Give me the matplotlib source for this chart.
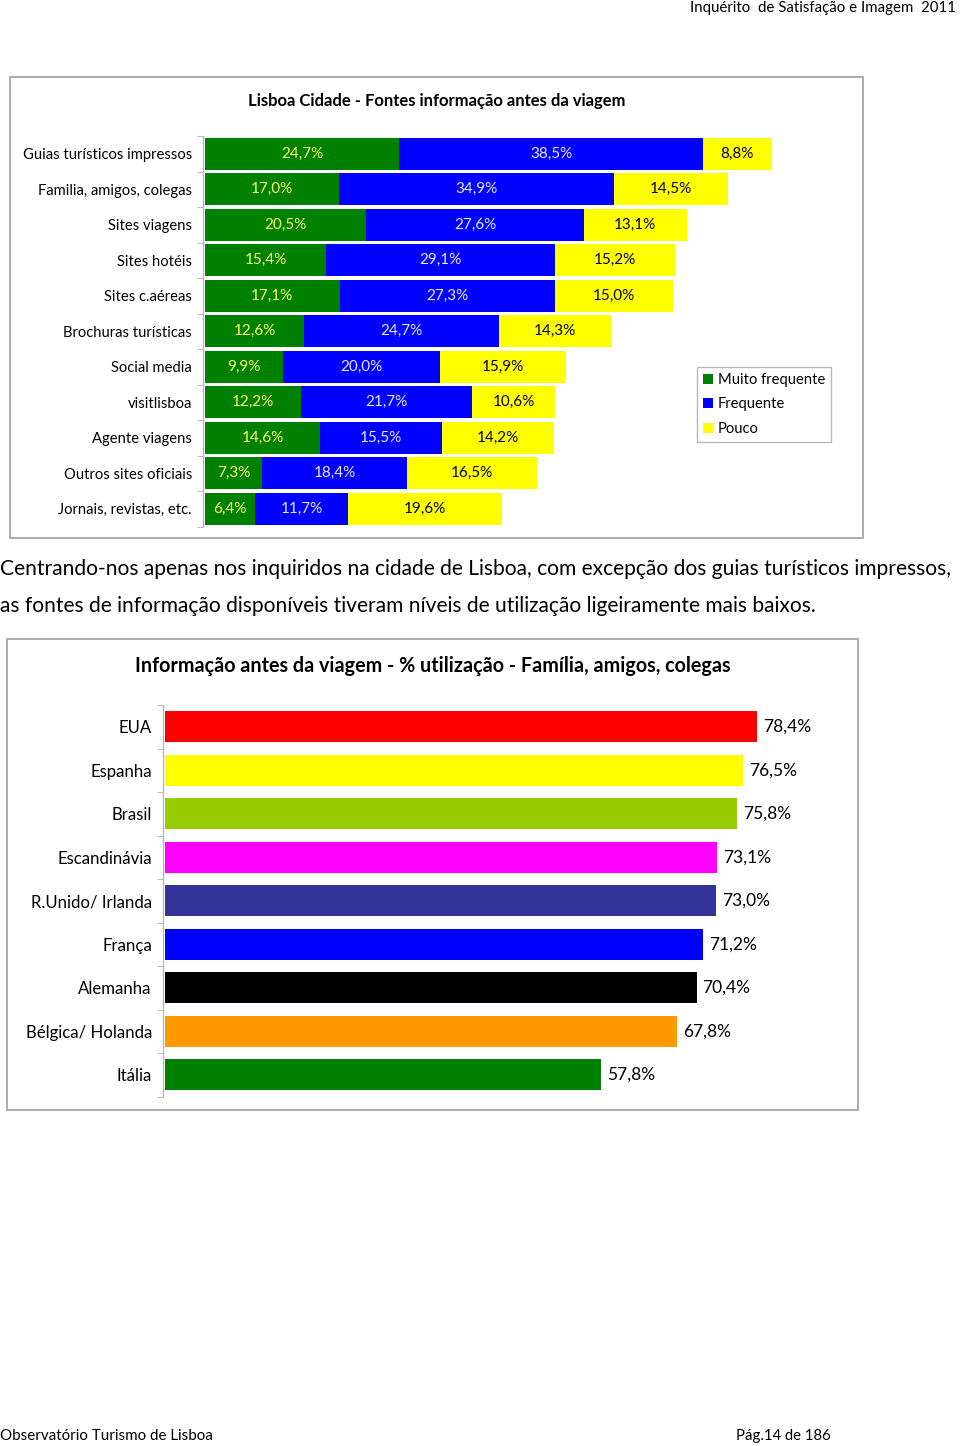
import matplotlib.pyplot as plt
import numpy as np
from matplotlib.patches import Patch, Rectangle

plt.rcParams["font.family"] = ["Lato", "DejaVu Sans"]

# ── data: chart 1 (stacked) ────────────────────────────────────────────────────
sources = [
    "Guias turísticos impressos", "Familia, amigos, colegas", "Sites viagens",
    "Sites hotéis", "Sites c.aéreas", "Brochuras turísticas", "Social media",
    "visitlisboa", "Agente viagens", "Outros sites oficiais", "Jornais, revistas, etc.",
]
muito_frequente = [24.7, 17.0, 20.5, 15.4, 17.1, 12.6, 9.9, 12.2, 14.6, 7.3, 6.4]
frequente       = [38.5, 34.9, 27.6, 29.1, 27.3, 24.7, 20.0, 21.7, 15.5, 18.4, 11.7]
pouco           = [8.8, 14.5, 13.1, 15.2, 15.0, 14.3, 15.9, 10.6, 14.2, 16.5, 19.6]
series_names    = ["Muito frequente", "Frequente", "Pouco"]

# ── data: chart 2 (countries) ──────────────────────────────────────────────────
countries = ["EUA", "Espanha", "Brasil", "Escandinávia", "R.Unido/ Irlanda",
             "França", "Alemanha", "Bélgica/ Holanda", "Itália"]
utilizacao = [78.4, 76.5, 75.8, 73.1, 73.0, 71.2, 70.4, 67.8, 57.8]

# ── style ──────────────────────────────────────────────────────────────────────
SEG_COLORS  = ["#008000", "#0000FF", "#FFFF00"]
SEG_TEXT    = ["#FFFF66", "#E8E8FF", "#000033"]
CTRY_COLORS = ["#FF0000", "#FFFF00", "#99CC00", "#FF00FF", "#333399",
               "#0000FF", "#000000", "#FF9900", "#008000"]
BOX_EDGE    = "#A6A6A6"

W, H = 960, 1446
fig = plt.figure(figsize=(W / 100, H / 100), dpi=100)


def fx(x):
    return x / W


def fy(y):
    return 1 - y / H


def add_box(x0, y0, x1, y1):
    fig.patches.append(Rectangle((fx(x0), fy(y1)), fx(x1 - x0), (y1 - y0) / H,
                                 transform=fig.transFigure, fill=False,
                                 edgecolor=BOX_EDGE, linewidth=1.3))


def style_axis(ax, n, pad):
    for s in ["top", "right", "bottom"]:
        ax.spines[s].set_visible(False)
    ax.spines["left"].set_color("#B0B0B0")
    ax.set_xticks([])
    ax.set_yticks(np.arange(n))
    ax.set_yticks(np.arange(n + 1) - 0.5, minor=True)
    ax.tick_params(axis="y", which="major", length=0, pad=pad)
    ax.tick_params(axis="y", which="minor", length=4, color="#B0B0B0")
    ax.set_ylim(n - 0.5, -0.5)


# ── page header / footer ───────────────────────────────────────────────────────
fig.text(fx(956), fy(8), "Inquérito  de Satisfação e Imagem  2011",
         ha="right", va="center", fontsize=10.8)
fig.text(fx(0), fy(1436), "Observatório Turismo de Lisboa",
         ha="left", va="center", fontsize=10.9)
fig.text(fx(736), fy(1436), "Pág.14 de 186", ha="left", va="center", fontsize=10.7)

# ── chart 1 ────────────────────────────────────────────────────────────────────
add_box(10, 77, 863, 538)
fig.text(fx(437), fy(101), "Lisboa Cidade - Fontes informação antes da viagem",
         ha="center", va="center", fontsize=12, fontweight="bold")

n1 = len(sources)
ax1 = fig.add_axes([fx(203), fy(136 + 11 * 35.5), fx(630), 11 * 35.5 / H])
style_axis(ax1, n1, pad=8)
ax1.set_xlim(-0.25, 79.75)
y1 = np.arange(n1)
left = np.zeros(n1)
for vals, col, tcol, name in zip([muito_frequente, frequente, pouco],
                                 SEG_COLORS, SEG_TEXT, series_names):
    vals = np.array(vals)
    ax1.barh(y1, vals, left=left, height=0.9, color=col, label=name)
    for yi, l, v in zip(y1, left, vals):
        ax1.text(l + v / 2, yi, f"{v:.1f}%".replace(".", ","),
                 ha="center", va="center", fontsize=11, color=tcol)
    left = left + vals
ax1.set_yticklabels(sources, fontsize=10.6)

handles = [Patch(facecolor=c, edgecolor="none") for c in SEG_COLORS]
leg = ax1.legend(handles, series_names, loc="upper left",
                 bbox_to_anchor=(fx(697), fy(367)), bbox_transform=fig.transFigure,
                 fontsize=10.6, frameon=True, fancybox=False, borderaxespad=0,
                 handlelength=0.7, handleheight=0.7, handletextpad=0.3,
                 labelspacing=0.72, borderpad=0.4)
leg.get_frame().set_edgecolor(BOX_EDGE)
leg.get_frame().set_linewidth(1.0)

# ── paragraph ──────────────────────────────────────────────────────────────────
fig.text(fx(0), fy(569),
         "Centrando-nos apenas nos inquiridos na cidade de Lisboa, com excepção dos guias turísticos impressos,",
         ha="left", va="center", fontsize=15.1)
fig.text(fx(0), fy(606),
         "as fontes de informação disponíveis tiveram níveis de utilização ligeiramente mais baixos.",
         ha="left", va="center", fontsize=15.1)

# ── chart 2 ────────────────────────────────────────────────────────────────────
add_box(7, 639, 858, 1110)
fig.text(fx(433), fy(666),
         "Informação antes da viagem - % utilização - Família, amigos, colegas",
         ha="center", va="center", fontsize=14.2, fontweight="bold")

n2 = len(countries)
ax2 = fig.add_axes([fx(163), fy(705 + 9 * 43.5), fx(650), 9 * 43.5 / H])
style_axis(ax2, n2, pad=8)
ax2.set_xlim(-0.26, 85.82)
y2 = np.arange(n2)
ax2.barh(y2, utilizacao, height=0.71, color=CTRY_COLORS)
for yi, v in zip(y2, utilizacao):
    ax2.text(v + 0.8, yi, f"{v:.1f}%".replace(".", ","),
             ha="left", va="center", fontsize=12.5, color="black")
ax2.set_yticklabels(countries, fontsize=12.1)

fig.savefig("out.png", dpi=100)
